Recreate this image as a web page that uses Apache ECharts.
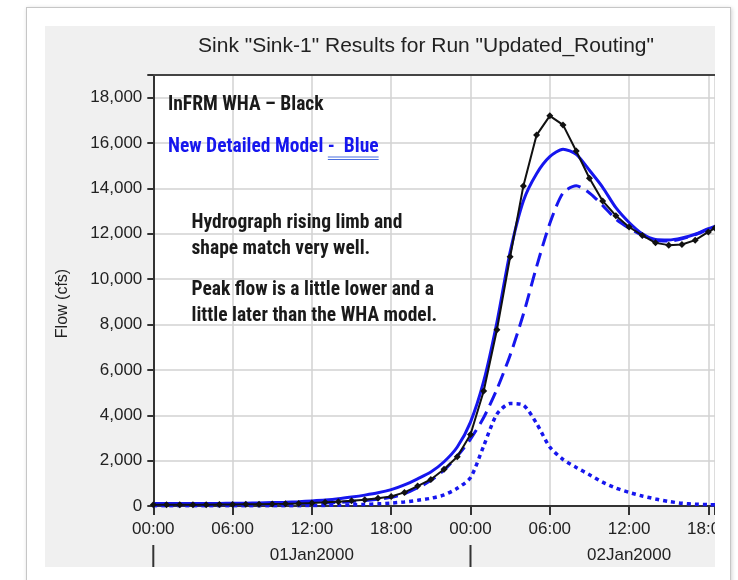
<!DOCTYPE html>
<html>
<head>
<meta charset="utf-8">
<script src="https://cdn.jsdelivr.net/npm/echarts@6/dist/echarts.min.js"></script>
<style>
  html, body { margin: 0; padding: 0; background: #ffffff; width: 738px; height: 580px; overflow: hidden; }
  #frame { position: absolute; left: 26px; top: 7px; width: 703px; height: 600px; border: 1px solid #c6c6c6; background: #ffffff; box-shadow: 1px 1px 4px rgba(0,0,0,0.18); }
  #panel { position: absolute; left: 45px; top: 26px; width: 670px; height: 541px; background: #f0f0f0; }
  #chart { position: absolute; left: 45px; top: 26px; width: 670px; height: 541px; }
</style>
</head>
<body>
<div id="frame"></div>
<div id="panel"></div>
<div id="chart"></div>
<script>
// ---- data (hours from 01Jan2000 00:00) ----
const hours = [0,1,2,3,4,5,6,7,8,9,10,11,12,13,14,15,16,17,18,19,20,21,22,23,24,25,26,27,28,29,30,31,32,33,34,35,36,37,38,39,40,41,42,42.5];
const whaBlack = [60,60,60,60,60,65,70,75,80,90,100,115,135,160,190,230,280,340,420,600,880,1170,1620,2170,3150,5070,7770,10990,14110,16350,17200,16800,15650,14450,13450,12800,12300,11930,11600,11500,11530,11720,12080,12250];
const detailedSolid = [110,110,110,110,110,115,120,125,135,150,165,190,225,265,320,395,480,580,720,930,1200,1500,1950,2600,3700,5500,8100,11200,13450,14650,15400,15730,15500,14800,14050,13150,12500,12000,11750,11730,11820,11980,12230,12330];
const detailedDashed = [60,60,60,60,60,60,65,70,75,80,90,100,115,135,160,195,240,300,380,540,800,1120,1580,2200,2950,3900,5150,6650,8450,10550,12450,13800,14120,13800,13250,12650,12250,11930,11700,11680,11780,11960,12200,12300];
const detailedDotted = [10,10,10,10,10,10,10,10,10,10,10,15,20,25,35,50,70,95,130,180,250,340,490,780,1250,2650,4050,4520,4450,3640,2600,2050,1700,1380,1050,790,600,440,310,200,120,80,60,55];
const yTicks = [0,2000,4000,6000,8000,10000,12000,14000,16000,18000];
const dateLabels = ['01Jan2000','02Jan2000'];
const dayStarts = [0, 24];
const titleText = 'Sink "Sink-1" Results for Run "Updated_Routing"';
const noteLines = ['Hydrograph rising limb and','shape match very well.','Peak flow is a little lower and a','little later than the WHA model.'];
const legendBlack = 'InFRM WHA \u2013 Black';
const legendBlueMain = 'New Detailed Model ';
const legendBlueTail = '-  Blue';

const pairs = arr => hours.map((h, i) => [h, arr[i]]);
const AX = '"Liberation Sans", Arial, sans-serif';
const NARROW = '"Liberation Sans Narrow", "Arial Narrow", "Roboto Condensed", Roboto, sans-serif';
const noteSize = 19.5;

// measure legend text to place the double underline under "-  Blue"
const mc = document.createElement('canvas').getContext('2d');
mc.font = 'bold ' + noteSize + 'px ' + NARROW;
const wMain = mc.measureText(legendBlueMain).width;
const wTail = mc.measureText(legendBlueTail).width;

const chart = echarts.init(document.getElementById('chart'), null, {renderer: 'canvas'});
const legX = 123;
const blue = '#1616ee';

const graphics = [
  {type:'text', x: legX, y: 79, z: 100, style:{text: legendBlack, fontFamily: NARROW, fontSize: noteSize, fontWeight:'bold', fill:'#1a1a1a', verticalAlign:'middle'}},
  {type:'text', x: legX, y: 121, z: 100, style:{text: legendBlueMain + legendBlueTail, fontFamily: NARROW, fontSize: noteSize, fontWeight:'bold', fill: blue, verticalAlign:'middle'}},
  {type:'line', z: 100, shape:{x1: legX + wMain, y1: 131, x2: legX + wMain + wTail, y2: 131}, style:{stroke:'#4a6fe0', lineWidth:1.2}},
  {type:'line', z: 100, shape:{x1: legX + wMain, y1: 133.5, x2: legX + wMain + wTail, y2: 133.5}, style:{stroke:'#4a6fe0', lineWidth:1.2}}
];
const noteY = [197, 223, 264.5, 290];
noteLines.forEach((t, i) => {
  graphics.push({type:'text', x: 146.5, y: noteY[i], z: 100, style:{text: t, fontFamily: NARROW, fontSize: noteSize, fontWeight:'bold', fill:'#1a1a1a', verticalAlign:'middle'}});
});

const fmtTime = v => (v % 6 !== 0) ? '' : String(v % 24).padStart(2,'0') + ':00';

const option = {
  animation: false,
  backgroundColor: 'transparent',
  title: {
    text: titleText, left: 376, top: 5, textAlign: 'center',
    textStyle: {fontFamily: AX, fontSize: 21, fontWeight: 'normal', color: '#222'}
  },
  grid: {left: 108.3, top: 49, right: 0, bottom: 61, outerBoundsMode: 'none', containLabel: false, show: true, backgroundColor: '#ffffff', borderWidth: 0},
  xAxis: [
    {
      type: 'value', min: 0, max: 42.5, interval: 6, position: 'bottom',
      axisLine: {show: true, onZero: false, lineStyle: {color: '#333', width: 2}},
      axisTick: {show: true, inside: false, length: 9, lineStyle: {color: '#333', width: 2}},
      axisLabel: {formatter: fmtTime, fontFamily: AX, fontSize: 17, color: '#222', margin: 15, showMaxLabel: true, hideOverlap: false},
      splitLine: {show: true, lineStyle: {color: '#d2d2d2', width: 1.5}}
    },
    {
      type: 'value', min: 0, max: 42.5, position: 'bottom', offset: 39,
      axisLine: {show: false},
      axisTick: {show: false},
      axisLabel: {customValues: [12, 36], formatter: v => dateLabels[Math.floor(v / 24)] || '', fontFamily: AX, fontSize: 17, color: '#222', margin: 2},
      splitLine: {show: false}
    },
    {
      type: 'value', min: 0, max: 42.5, position: 'top',
      axisLine: {show: true, lineStyle: {color: '#444', width: 2}},
      axisTick: {show: false}, axisLabel: {show: false}, splitLine: {show: false}
    }
  ],
  yAxis: {
    type: 'value', min: 0, max: 19000, interval: 2000,
    name: 'Flow (cfs)', nameLocation: 'middle', nameRotate: 90, nameGap: 83,
    nameTextStyle: {fontFamily: AX, fontSize: 16, color: '#222', padding: [0, 26, 0, 0]},
    axisLine: {show: true, lineStyle: {color: '#333', width: 2}},
    axisTick: {show: true, length: 6, lineStyle: {color: '#333', width: 2}},
    axisLabel: {formatter: v => yTicks.includes(v) ? v.toLocaleString('en-US') : '', fontFamily: AX, fontSize: 17, color: '#222', margin: 11},
    splitLine: {show: true, lineStyle: {color: '#d2d2d2', width: 1.5}}
  },
  series: [
    {name: 'Dotted', type: 'line', data: pairs(detailedDotted), showSymbol: false, smooth: 0.25,
     lineStyle: {color: blue, width: 3.5, type: [4, 4]}, z: 2},
    {name: 'Dashed', type: 'line', data: pairs(detailedDashed), showSymbol: false, smooth: 0.25,
     lineStyle: {color: blue, width: 3, type: [14, 7]}, z: 3},
    {name: 'New Detailed Model', type: 'line', data: pairs(detailedSolid), showSymbol: false, smooth: 0.25,
     lineStyle: {color: blue, width: 3}, z: 4},
    {name: 'InFRM WHA', type: 'line', data: pairs(whaBlack), symbol: 'diamond', symbolSize: 7, showSymbol: true,
     itemStyle: {color: '#111'}, lineStyle: {color: '#111', width: 2}, z: 5}
  ],
  graphic: graphics
};
chart.setOption(option);

// day-boundary ticks of the date row, placed through the axis scale
const yZero = chart.convertToPixel({yAxisIndex: 0}, 0);
const dayTicks = dayStarts.map(d => {
  const x = chart.convertToPixel({xAxisIndex: 0}, d);
  return {type: 'line', z: 100, shape: {x1: x, y1: yZero + 39, x2: x, y2: yZero + 64}, style: {stroke: '#333', lineWidth: 2}};
});
chart.setOption({graphic: graphics.concat(dayTicks)});
</script>
</body>
</html>
